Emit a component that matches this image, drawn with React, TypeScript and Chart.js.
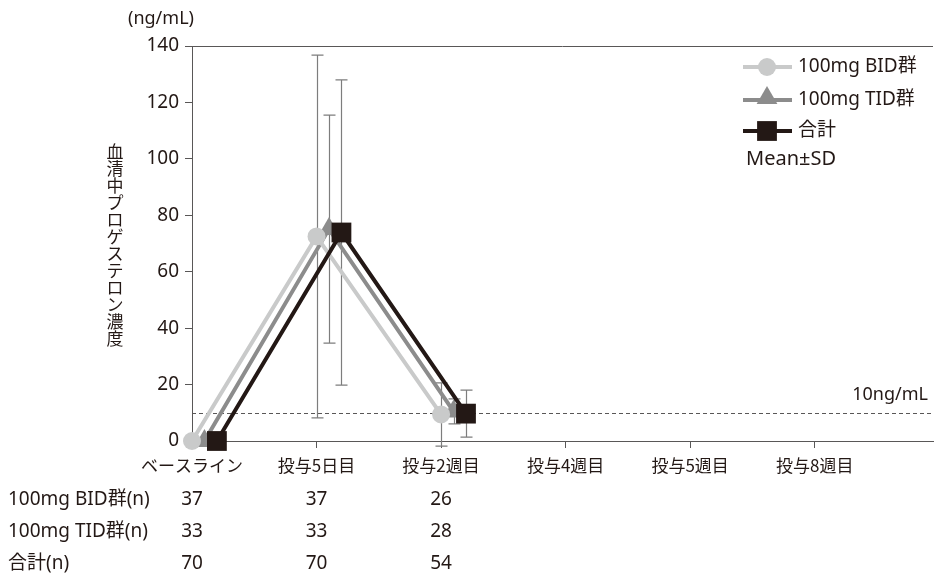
import React, { useEffect, useRef } from 'react';
import { Chart, registerables } from 'chart.js';

Chart.register(...registerables);

// ---------- data ----------
const categories = ['ベースライン', '投与5日目', '投与2週目', '投与4週目', '投与5週目', '投与8週目'];
const yTicks = [0, 20, 40, 60, 80, 100, 120, 140];
const seriesNames = ['100mg BID群', '100mg TID群', '合計'];
const bidMean = [0, 72.5, 9.4];
const bidSD = [0, 64.3, 11.2];
const tidMean = [0, 75.1, 10.5];
const tidSD = [0, 40.4, 4.4];
const totalMean = [0, 73.9, 9.7];
const totalSD = [0, 54.1, 8.3];
const nRowLabels = ['100mg BID群(n)', '100mg TID群(n)', '合計(n)'];
const bidN = [37, 37, 26];
const tidN = [33, 33, 28];
const totalN = [70, 70, 54];
const thresholdValue = 10;
const thresholdLabel = '10ng/mL';
const unitLabel = '(ng/mL)';
const yTitle = '血清中プロゲステロン濃度';
const noteLabel = 'Mean±SD';

// ---------- styles ----------
const FONT = '"Noto Sans", "Noto Sans CJK JP", sans-serif';
const CJK = '"Noto Sans CJK JP", "Noto Sans", sans-serif';
const TEXT = '#231815';
const AXIS = '#595757';
const ERR = '#7d7d7d';

const seriesStyles = [
  { color: '#c9caca', pointStyle: 'circle', radius: 9, offset: 0, order: 1 },
  { color: '#8c8c8c', pointStyle: 'triangle', radius: 12, offset: 0.1, order: 2 },
  { color: '#231815', pointStyle: 'rect', radius: 14, offset: 0.2, order: 0 },
];
const means = [bidMean, tidMean, totalMean];
const sds = [bidSD, tidSD, totalSD];
const nRows = [bidN, tidN, totalN];

function drawMarker(ctx: CanvasRenderingContext2D, style: string, x: number, y: number, r: number, color: string) {
  ctx.save();
  ctx.fillStyle = color;
  ctx.beginPath();
  if (style === 'circle') {
    ctx.arc(x, y, r, 0, Math.PI * 2);
  } else if (style === 'triangle') {
    const w = r * Math.sqrt(3) / 2;
    ctx.moveTo(x, y - r);
    ctx.lineTo(x + w, y + r / 2);
    ctx.lineTo(x - w, y + r / 2);
    ctx.closePath();
  } else {
    const s = r * Math.SQRT1_2;
    ctx.rect(x - s, y - s, 2 * s, 2 * s);
  }
  ctx.fill();
  ctx.restore();
}

const overlayPlugin = {
  id: 'overlay',
  beforeDatasetsDraw(chart: any) {
    const { ctx, chartArea } = chart;
    const xs = chart.scales.x;
    const ys = chart.scales.y;
    ctx.save();
    // top frame line
    ctx.strokeStyle = AXIS;
    ctx.lineWidth = 1;
    ctx.beginPath();
    ctx.moveTo(chartArea.left, Math.round(chartArea.top) + 0.5);
    ctx.lineTo(chartArea.right, Math.round(chartArea.top) + 0.5);
    ctx.stroke();
    // threshold dashed line
    const ty = Math.round(ys.getPixelForValue(thresholdValue)) + 0.5;
    ctx.setLineDash([4, 3]);
    ctx.beginPath();
    ctx.moveTo(chartArea.left, ty);
    ctx.lineTo(chartArea.right, ty);
    ctx.stroke();
    ctx.setLineDash([]);
    // error bars
    ctx.strokeStyle = ERR;
    ctx.lineWidth = 1.2;
    seriesStyles.forEach((s, si) => {
      means[si].forEach((m, i) => {
        const sd = sds[si][i];
        if (!sd) return;
        const x = Math.round(xs.getPixelForValue(i + s.offset)) + 0.5;
        const yt = ys.getPixelForValue(m + sd);
        const yb = ys.getPixelForValue(m - sd);
        ctx.beginPath();
        ctx.moveTo(x, yt);
        ctx.lineTo(x, yb);
        ctx.moveTo(x - 6, yt);
        ctx.lineTo(x + 6, yt);
        ctx.moveTo(x - 6, yb);
        ctx.lineTo(x + 6, yb);
        ctx.stroke();
      });
    });
    ctx.restore();
  },
  afterDraw(chart: any) {
    const { ctx } = chart;
    const xs = chart.scales.x;
    const ys = chart.scales.y;
    ctx.save();
    ctx.fillStyle = TEXT;
    ctx.textBaseline = 'middle';

    // unit label
    ctx.font = `18px ${FONT}`;
    ctx.textAlign = 'center';
    ctx.fillText(unitLabel, 161, 19);

    // vertical y title
    ctx.font = `17px ${CJK}`;
    Array.from(yTitle).forEach((ch, i) => {
      ctx.fillText(ch, 115, 152 + i * 17);
    });

    // x category labels
    ctx.font = `17px ${CJK}`;
    categories.forEach((c, i) => {
      ctx.fillText(c, xs.getPixelForValue(i), 466);
    });

    // n table
    const rowY = [500, 532, 564];
    nRowLabels.forEach((lab, r) => {
      ctx.textAlign = 'left';
      ctx.font = `19px ${FONT}`;
      ctx.fillText(lab, 8, rowY[r]);
      ctx.textAlign = 'center';
      nRows[r].forEach((v, i) => {
        ctx.fillText(String(v), xs.getPixelForValue(i), rowY[r]);
      });
    });

    // threshold label
    ctx.textAlign = 'right';
    ctx.font = `18px ${FONT}`;
    ctx.fillText(thresholdLabel, 928, ys.getPixelForValue(thresholdValue) - 18);

    // legend
    const legY = [67, 100, 131];
    seriesStyles.forEach((s, i) => {
      ctx.save();
      ctx.strokeStyle = s.color;
      ctx.lineWidth = 4;
      ctx.beginPath();
      ctx.moveTo(743, legY[i]);
      ctx.lineTo(792, legY[i]);
      ctx.stroke();
      ctx.restore();
      drawMarker(ctx, s.pointStyle, 767, legY[i] + (s.pointStyle === 'triangle' ? -2 : 0), s.radius, s.color);
      ctx.fillStyle = TEXT;
      ctx.textAlign = 'left';
      ctx.font = `19px ${FONT}`;
      ctx.fillText(seriesNames[i], 798, legY[i]);
    });
    ctx.font = `20px ${FONT}`;
    ctx.fillText(noteLabel, 746, 159);
    ctx.restore();
  },
};

export default function App() {
  const ref = useRef<HTMLCanvasElement>(null);
  useEffect(() => {
    if (!ref.current) return;
    const chart = new Chart(ref.current, {
      type: 'line',
      data: {
        datasets: seriesStyles.map((s, si) => ({
          label: seriesNames[si],
          data: means[si].map((m, i) => ({ x: i + s.offset, y: m })),
          borderColor: s.color,
          backgroundColor: s.color,
          borderWidth: 4,
          pointStyle: s.pointStyle as any,
          pointRadius: s.radius,
          pointBorderWidth: 0,
          pointBackgroundColor: s.color,
          pointBorderColor: s.color,
          order: s.order,
          clip: false as any,
          tension: 0,
        })),
      },
      options: {
        animation: false,
        responsive: false,
        devicePixelRatio: 1,
        layout: { autoPadding: false, padding: { top: 46, right: 2, left: 0, bottom: 0 } },
        plugins: { legend: { display: false }, tooltip: { enabled: false } },
        scales: {
          x: {
            type: 'linear',
            min: 0,
            max: 5.95,
            afterBuildTicks: (s: any) => {
              s.ticks = categories.map((_, i) => ({ value: i }));
            },
            afterFit: (s: any) => {
              s.height = 135;
            },
            grid: { drawOnChartArea: false, tickLength: 7, color: AXIS, lineWidth: 1 },
            border: { color: AXIS, width: 1 },
            ticks: { display: false },
          },
          y: {
            min: 0,
            max: 140,
            afterBuildTicks: (s: any) => {
              s.ticks = yTicks.map((v) => ({ value: v }));
            },
            afterFit: (s: any) => {
              s.width = 192;
            },
            grid: { drawOnChartArea: false, tickLength: 7, color: AXIS, lineWidth: 1 },
            border: { color: AXIS, width: 1 },
            ticks: { padding: 6, color: TEXT, font: { family: FONT, size: 19 } },
          },
        },
      },
      plugins: [overlayPlugin],
    });
    return () => chart.destroy();
  }, []);
  return (
    <div style={{ position: 'absolute', left: 0, top: 0, width: 935, height: 576, background: '#fff' }}>
      <canvas ref={ref} width={935} height={576} />
    </div>
  );
}
